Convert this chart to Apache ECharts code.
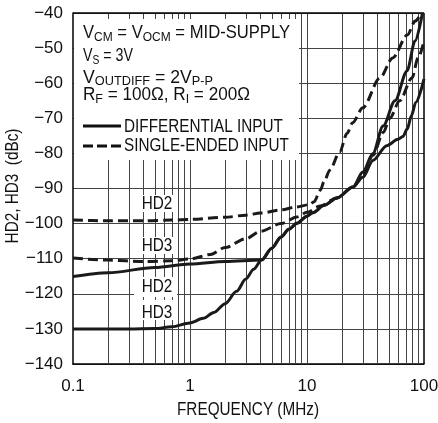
<!DOCTYPE html>
<html><head><meta charset="utf-8">
<script src="https://cdn.jsdelivr.net/npm/echarts@6/dist/echarts.min.js"></script>
<style>html,body{margin:0;padding:0;background:#fff}#c{width:438px;height:423px}</style>
</head><body><div id="c"></div>
<script>
const FONT = '"Liberation Sans",Arial,Helvetica,sans-serif';
const FS = 18;
const SUBFS = 13;
const SQ = 0.85;   // horizontal squeeze to mimic condensed type
const TICKFS = 17;

// Axis ranges / ticks
const xMin = 0.1, xMax = 100;
const yMin = -140, yMax = -40, yStep = 10;
const gridFreqs = [0.2,0.3,0.4,0.5,0.6,0.7,0.8,0.9,1,2,3,4,5,6,7,8,9,10,20,30,40,50,60,70,80,90];

// Single-ended input (dashed)
const seHd2 = [[0.1,-99],[0.2,-99.2],[0.4,-99.2],[0.7,-99],[1,-98.8],[2,-98.2],[3,-97.6],[4,-97],[6,-96.1],[8,-95.3],[10.5,-94.6],[11.5,-93.8],[13,-90.5],[14,-88],[15.7,-84.7],[19,-79.6],[22,-74.3],[24.5,-71.3],[30,-67],[42,-58.5],[54,-52.8],[72,-46.3],[84,-42.3],[95,-40]];
const seHd3 = [[0.1,-109.8],[0.2,-110.4],[0.4,-110.8],[0.7,-110.6],[1,-110.1],[1.5,-108.8],[2,-106.8],[3,-104.3],[4,-102.2],[6,-100],[8.2,-98.1],[10,-96.8],[12.9,-95],[18,-92.7],[24.7,-89.6],[30,-86],[36.6,-80.5],[45,-74],[51,-70],[62,-65],[79,-58.5],[89,-52.8],[100,-48]];
// Differential input (solid)
const diffHd2 = [[0.1,-115.1],[0.2,-114],[0.5,-112.5],[1,-111.5],[2,-110.8],[4.1,-110.4],[5,-107],[6,-103.8],[7,-101.6],[8.2,-99.9],[10,-97.9],[11.2,-96.9],[14,-94.8],[18,-92.7],[24.7,-89.6],[30,-86.8],[36.6,-82],[48,-77.8],[60,-76],[66,-75.2],[72,-73],[78,-69.3],[85,-65.5],[100,-58.8]];
const diffHd3 = [[0.1,-130],[0.3,-130],[0.5,-129.9],[0.7,-129.4],[1,-128.3],[1.3,-127],[1.6,-125.3],[2,-122.8],[2.5,-119.3],[3,-115.8],[3.5,-113],[4.1,-110.3],[5,-107],[6,-103.8],[7,-101.6],[8.2,-99.9],[10,-97.9],[11.2,-96.9],[14,-94.8],[18,-92.7],[24.7,-89.6],[30,-85.3],[36.6,-80],[44.7,-72.2],[56.5,-65],[71.6,-56.5],[83.8,-48],[97,-40]];

const noteLines = [
  [['V'],['CM',1],[' = V'],['OCM',1],[' = MID-SUPPLY']],
  [['V'],['S',1],[' = 3V']],
  [['V'],['OUTDIFF',1],[' = 2V'],['P-P',1]],
  [['R'],['F',1],[' = 100\u03A9, R'],['I',1],[' = 200\u03A9']]
];
const legendNames = ['DIFFERENTIAL INPUT', 'SINGLE-ENDED INPUT'];
const hdLabels = ['HD2','HD3','HD2','HD3'];
const xName = 'FREQUENCY (MHz)';
const yName = 'HD2, HD3  (dBc)';

const ctx = document.createElement('canvas').getContext('2d');
function tw(t, size){ ctx.font = size + 'px ' + FONT; return ctx.measureText(t).width; }
function txt(t, x, y, size, align, sq, extra){
  return Object.assign({type:'text', z:60, x:x, y:y, scaleX:sq, silent:true,
    style:{text:t, font:size+'px '+FONT, fill:'#111', align:align, verticalAlign:'middle', textAlign:align, textVerticalAlign:'middle'}}, extra||{});
}

const graphics = [];
// white box behind notes
graphics.push({type:'rect', z:50, silent:true, shape:{x:74, y:19, width:225, height:141}, style:{fill:'#fff'}});
// white boxes behind HD labels
const hdBoxes = [[195,212],[237,254],[277,297],[300,320]];
hdBoxes.forEach(b => graphics.push({type:'rect', z:50, silent:true, shape:{x:134, y:b[0], width:43, height:b[1]-b[0]}, style:{fill:'#fff'}}));
const hdCenters = [204, 246, 287, 313];
hdLabels.forEach((t,i) => graphics.push(txt(t, 157, hdCenters[i], FS, 'center', SQ)));

// note block: per-line layout (start x, right end, cap centre, subscript drop)
const noteX = 83;
const noteEnds = [290, 133, 213, 250];
const lineCenters = [33, 56, 78, 95];
const subDrop = [4.5, 4.5, 3, 4.5];
noteLines.forEach((segs, i) => {
  const natural = segs.reduce((s, [t, sub]) => s + tw(t, sub ? SUBFS : FS), 0);
  const sq = (noteEnds[i] - noteX) / natural;
  let x = noteX;
  segs.forEach(([t, sub]) => {
    const size = sub ? SUBFS : FS;
    graphics.push(txt(t, x, lineCenters[i] + (sub ? subDrop[i] : 0), size, 'left', sq));
    x += tw(t, size) * sq;
  });
});
// legend
const legY = [127, 146];
graphics.push({type:'line', z:60, silent:true, shape:{x1:83, y1:126, x2:121, y2:126}, style:{stroke:'#111', lineWidth:3}});
graphics.push({type:'line', z:60, silent:true, shape:{x1:83, y1:146, x2:121, y2:146}, style:{stroke:'#111', lineWidth:3, lineDash:[10,4]}});
legendNames.forEach((t,i) => graphics.push(txt(t, 124, legY[i], FS, 'left', SQ)));
// axis names
graphics.push(txt(xName, 248, 410, FS, 'center', SQ));
graphics.push(txt(yName, 13, 186, FS, 'center', SQ, {rotation:Math.PI/2}));

function curve(name, data, dashed){
  return {type:'line', name:name, data:data, showSymbol:false, symbol:'none', z:100, smooth:0.3, smoothMonotone:'x',
    lineStyle:{color:'#1a1a1a', width:3, type: dashed ? [10,5] : 'solid', cap:'butt', join:'round'}, silent:true, animation:false};
}

const chart = echarts.init(document.getElementById('c'), null, {renderer:'canvas'});
chart.setOption({
  animation:false,
  backgroundColor:'#fff',
  grid:{left:73, right:14, top:13, bottom:59, outerBoundsMode:'none', containLabel:false, show:false},
  xAxis:{type:'log', logBase:10, min:xMin, max:xMax,
    axisLine:{show:true, onZero:false, lineStyle:{color:'#000', width:1.5}},
    axisTick:{show:false}, minorTick:{show:false}, splitLine:{show:false},
    axisLabel:{fontFamily:FONT, fontSize:TICKFS, color:'#111', margin:14, formatter: v => String(v)}},
  yAxis:{type:'value', min:yMin, max:yMax, interval:yStep,
    axisLine:{show:true, lineStyle:{color:'#000', width:1.5}},
    axisTick:{show:false},
    splitLine:{show:true, lineStyle:{color:'#444', width:1}},
    axisLabel:{fontFamily:FONT, fontSize:TICKFS, color:'#111', margin:10, formatter: v => String(v).replace('-', '\u2212')}},
  graphic:{elements:graphics},
  series:[
    {type:'line', data:[], z:1, silent:true, symbol:'none',
      markLine:{silent:true, symbol:['none','none'], label:{show:false}, animation:false,
        lineStyle:{color:'#444', width:1, type:'solid'},
        data: gridFreqs.map(f => ({xAxis:f}))}},
    {type:'line', data:[], z:1, silent:true, symbol:'none',
      markLine:{silent:true, symbol:['none','none'], label:{show:false}, animation:false,
        lineStyle:{color:'#000', width:1.5, type:'solid'},
        data: [{xAxis:xMax}, {yAxis:yMax}]}},
    curve('SE HD2', seHd2, true),
    curve('SE HD3', seHd3, true),
    curve('DIFF HD2', diffHd2, false),
    curve('DIFF HD3', diffHd3, false)
  ]
});
</script></body></html>
